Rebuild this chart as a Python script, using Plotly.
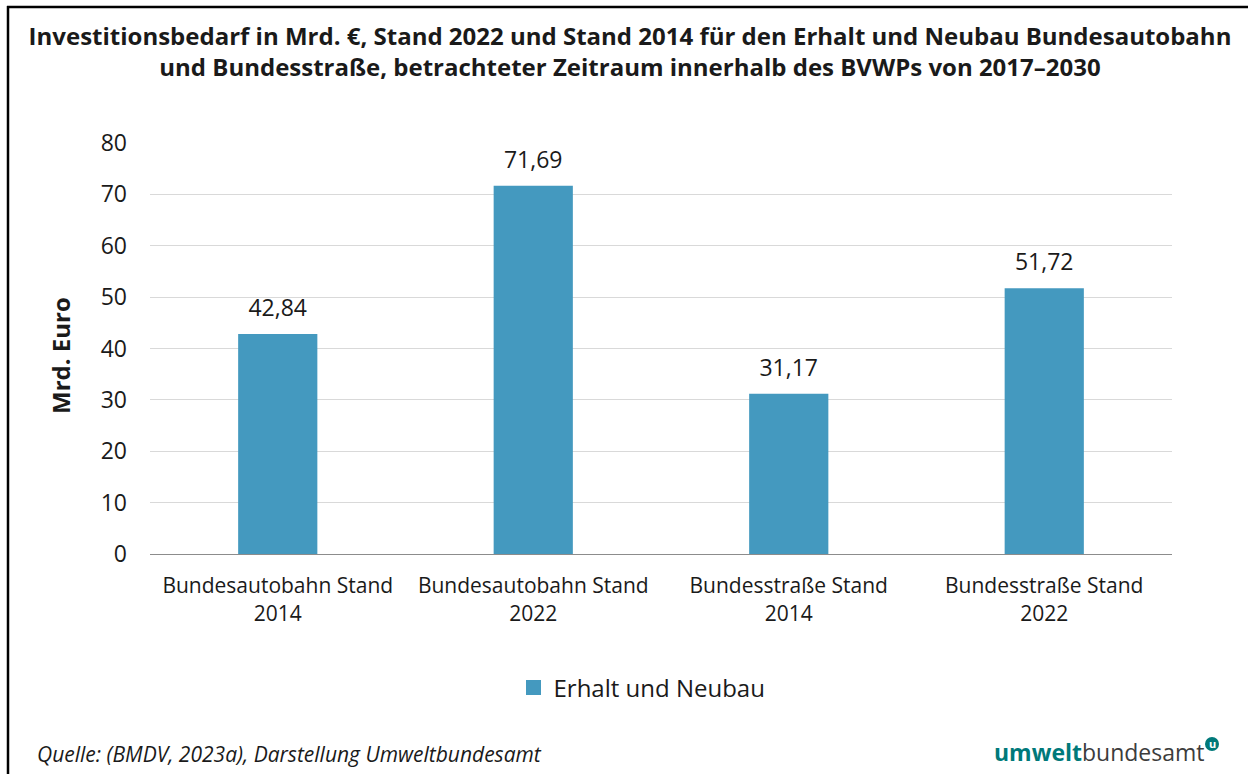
import plotly.graph_objects as go

categories = ["Bundesautobahn Stand<br>2014", "Bundesautobahn Stand<br>2022",
              "Bundesstraße Stand<br>2014", "Bundesstraße Stand<br>2022"]
values = [42.84, 71.69, 31.17, 51.72]
series_name = "Erhalt und Neubau"
y_ticks = [0, 10, 20, 30, 40, 50, 60, 70, 80]

W, H = 1248, 774
L, R, T, B = 150, 1172, 143, 554

def px(x):
    return (x - L) / (R - L)

def py(y):
    return (B - y) / (B - T)

font = "Open Sans"
bar_color = "#4499BF"
txt = "#1a1a1a"

fig = go.Figure()
fig.add_trace(go.Bar(
    x=categories, y=values, name=series_name, showlegend=False,
    marker=dict(color=bar_color, line=dict(width=0)),
    hoverinfo="skip",
))
# value labels above bars
fig.add_trace(go.Scatter(
    x=categories, y=values, mode="markers+text", showlegend=False,
    text=[f"{v:.2f}".replace(".", ",") for v in values],
    textposition="top center",
    textfont=dict(family=font, size=23, color=txt),
    marker=dict(size=18, color="rgba(0,0,0,0)"),
    hoverinfo="skip", cliponaxis=False,
))
# legend entry (square swatch)
fig.add_trace(go.Scatter(
    x=[None], y=[None], mode="markers", name=series_name,
    marker=dict(symbol="square", size=15, color=bar_color),
))

fig.update_layout(
    width=W, height=H,
    margin=dict(l=L, r=W - R, t=T, b=H - B, autoexpand=False),
    paper_bgcolor="white", plot_bgcolor="white",
    separators=",.",
    bargap=0.69,
    showlegend=True,
    legend=dict(orientation="h", x=px(642), xanchor="center", y=py(688), yanchor="middle",
                font=dict(family=font, size=24, color=txt), itemwidth=30),
    title=dict(
        text="Investitionsbedarf in Mrd. €, Stand 2022 und Stand 2014 für den Erhalt und Neubau Bundesautobahn<br>und Bundesstraße, betrachteter Zeitraum innerhalb des BVWPs von 2017–2030",
        x=630 / W, xref="container", xanchor="center", y=1 - 45 / H, yanchor="middle",
        font=dict(family=font, size=24, color=txt, weight="bold"),
    ),
    xaxis=dict(
        tickfont=dict(family=font, size=21, color=txt),
        showgrid=False, showline=True, linecolor="#8c8c8c", linewidth=1,
        ticks="", ticklabelstandoff=13,
    ),
    yaxis=dict(
        range=[0, 80], tickvals=y_ticks,
        tickfont=dict(family=font, size=23, color=txt),
        showgrid=True, gridcolor="#d9d9d9", gridwidth=1,
        zeroline=False, showline=False, ticks="", ticklabelstandoff=22,
    ),
)

# Y axis title
fig.add_annotation(xref="paper", yref="paper", x=px(60), y=py(356),
                   xanchor="center", yanchor="middle", showarrow=False, textangle=-90,
                   text="<b>Mrd. Euro</b>", font=dict(family=font, size=24, color=txt))

# Frame lines (top and left)
fig.add_shape(type="line", xref="paper", yref="paper",
              x0=px(7), x1=px(W + 5), y0=py(7), y1=py(7),
              line=dict(color="black", width=2.5))
fig.add_shape(type="line", xref="paper", yref="paper",
              x0=px(8), x1=px(8), y0=py(6), y1=py(H + 5),
              line=dict(color="black", width=2.5))

# Source
fig.add_annotation(xref="paper", yref="paper", x=px(35), y=py(754),
                   xanchor="left", yanchor="middle", showarrow=False,
                   text="<i>Quelle: (BMDV, 2023a), Darstellung Umweltbundesamt</i>",
                   font=dict(family=font, size=21, color=txt))

# Logo
fig.add_annotation(xref="paper", yref="paper", x=px(1207), y=py(752),
                   xanchor="right", yanchor="middle", showarrow=False,
                   text="<span style='color:#00797A'><b>umwelt</b></span><span style='color:#3c3c3c'>bundesamt</span>",
                   font=dict(family=font, size=23))
fig.add_shape(type="circle", xref="paper", yref="paper",
              x0=px(1205), x1=px(1219), y0=py(737), y1=py(751),
              fillcolor="#00797A", line=dict(color="#00797A", width=0))
fig.add_annotation(xref="paper", yref="paper", x=px(1212), y=py(743.5),
                   xanchor="center", yanchor="middle", showarrow=False,
                   text="<b>u</b>", font=dict(family=font, size=11, color="white"))

fig.write_html("out.html", config={"displayModeBar": False},
               post_script="document.body.style.margin='0';")
